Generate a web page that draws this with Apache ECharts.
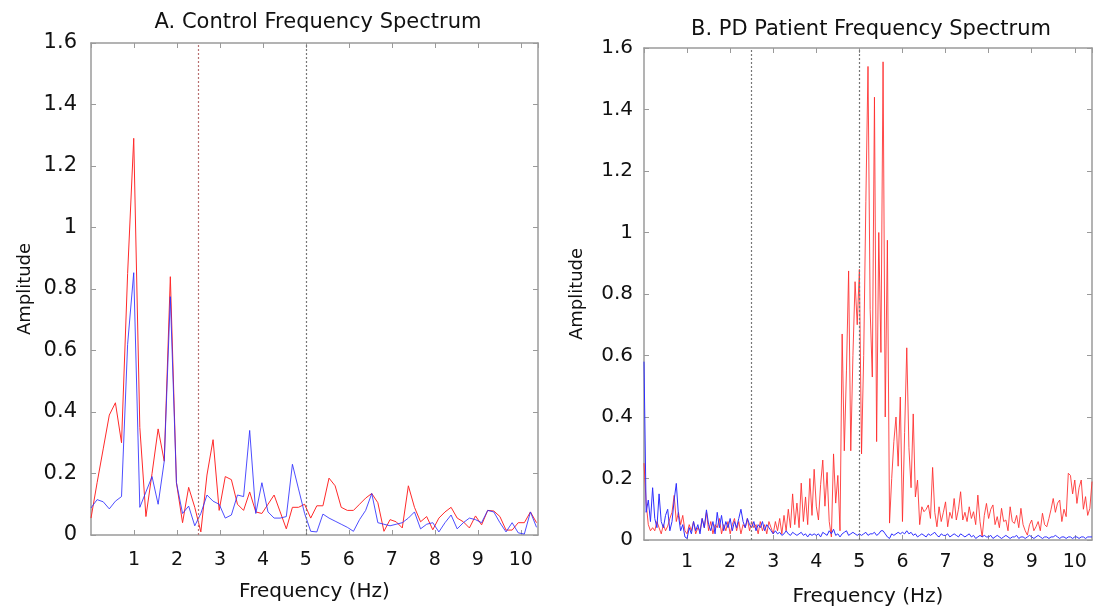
<!DOCTYPE html>
<html>
<head>
<meta charset="utf-8">
<script src="https://cdn.jsdelivr.net/npm/echarts@6/dist/echarts.min.js"></script>
<style>
html,body{margin:0;padding:0;background:#fff;}
#c{width:1093px;height:607px;}
</style>
</head>
<body>
<div id="c"></div>
<script>
// ---- Data ----
const titles = ['A. Control Frequency Spectrum', 'B. PD Patient Frequency Spectrum'];
const xTickLabels = ['1','2','3','4','5','6','7','8','9','10'];
const markFreqs = [2.5, 5];

// Control (panel A): frequency bin step (Hz) and amplitudes
const controlStep = 0.142;
const controlRed = [
  0.055,0.17,0.28,0.39,0.43,0.30,0.85,1.29,0.35,0.06,
  0.20,0.345,0.24,0.84,0.17,0.04,0.155,0.09,0.01,0.195,
  0.31,0.08,0.19,0.18,0.10,0.08,0.14,0.075,0.07,0.10,
  0.13,0.075,0.02,0.09,0.09,0.10,0.055,0.095,0.095,0.185,
  0.16,0.09,0.08,0.08,0.10,0.12,0.135,0.105,0.012,0.05,
  0.043,0.023,0.16,0.09,0.043,0.06,0.017,0.055,0.075,0.09,
  0.055,0.043,0.023,0.062,0.033,0.08,0.078,0.06,0.016,0.016,
  0.04,0.04,0.075,0.04
];
const controlBlue = [
  0.088,0.115,0.108,0.085,0.11,0.125,0.62,0.853,0.09,0.14,
  0.19,0.10,0.24,0.775,0.17,0.07,0.094,0.03,0.07,0.13,
  0.11,0.10,0.055,0.065,0.13,0.125,0.34,0.07,0.17,0.075,
  0.055,0.055,0.06,0.23,0.15,0.07,0.012,0.01,0.068,0.055,
  0.045,0.035,0.025,0.012,0.05,0.08,0.135,0.04,0.035,0.03,
  0.035,0.04,0.055,0.075,0.02,0.035,0.04,0.01,0.04,0.065,
  0.02,0.04,0.055,0.05,0.04,0.08,0.075,0.04,0.01,0.04,
  0.007,0.003,0.075,0.025
];

// PD patient (panel B)
const pdStep = 0.05;
const pdRed = [
  // 0-1 Hz
  0.25,0.12,0.05,0.03,0.04,0.03,0.06,0.04,0.02,0.05,0.03,0.045,0.07,0.09,0.145,0.06,0.09,0.05,0.08,0.03,
  // 1-2 Hz
  0.02,0.05,0.03,0.06,0.02,0.04,0.03,0.07,0.04,0.09,0.03,0.06,0.02,0.05,0.04,0.07,0.02,0.05,0.03,0.06,
  // 2-3 Hz
  0.02,0.05,0.07,0.03,0.06,0.02,0.05,0.04,0.07,0.03,0.06,0.04,0.05,0.02,0.06,0.03,0.05,0.02,0.06,0.04,
  // 3-4 Hz
  0.02,0.06,0.03,0.07,0.02,0.08,0.03,0.10,0.04,0.15,0.05,0.12,0.04,0.185,0.06,0.14,0.05,0.20,0.08,0.23,
  // 4-5 Hz
  0.11,0.065,0.18,0.26,0.11,0.22,0.06,0.01,0.28,0.12,0.21,0.03,0.67,0.29,0.55,0.875,0.29,0.60,0.84,0.70,
  // 5-6 Hz
  0.88,0.28,0.60,1.10,1.54,0.75,0.53,1.44,0.32,1.00,0.61,1.555,0.40,0.975,0.055,0.20,0.32,0.40,0.24,0.465,
  // 6-7 Hz
  0.06,0.35,0.625,0.30,0.17,0.41,0.14,0.195,0.05,0.108,0.092,0.10,0.114,0.07,0.236,0.09,0.043,0.108,0.06,0.09,
  // 7-8 Hz
  0.124,0.043,0.09,0.07,0.135,0.065,0.10,0.157,0.065,0.09,0.06,0.108,0.07,0.092,0.05,0.146,0.06,0.01,0.08,0.119,
  // 8-9 Hz
  0.07,0.10,0.114,0.05,0.076,0.04,0.103,0.06,0.065,0.03,0.108,0.06,0.054,0.08,0.04,0.103,0.05,0.03,0.016,0.05,
  // 9-10 Hz
  0.065,0.03,0.043,0.06,0.03,0.087,0.05,0.043,0.07,0.10,0.135,0.09,0.12,0.13,0.06,0.10,0.076,0.217,0.21,0.15,
  // 10-10.4 Hz
  0.195,0.119,0.17,0.195,0.10,0.141,0.08,0.103,0.19
];
const pdBlue = [
  0.58,0.09,0.13,0.06,0.17,0.07,0.04,0.15,0.06,0.04,0.08,0.10,0.03,0.06,0.13,0.184,0.08,0.03,0.05,0.01,
  0.005,0.04,0.02,0.06,0.03,0.05,0.02,0.07,0.04,0.098,0.05,0.03,0.06,0.02,0.09,0.04,0.08,0.03,0.06,0.04,
  0.07,0.03,0.06,0.04,0.07,0.10,0.06,0.04,0.07,0.05,0.04,0.06,0.03,0.05,0.04,0.06,0.03,0.05,0.04,0.03,
  0.02,0.03,0.02,0.025,0.015,0.02,0.03,0.02,0.015,0.025,0.02,0.015,0.02,0.025,0.015,0.02,0.01,0.02,0.015,0.02,
  0.015,0.02,0.01,0.025,0.02,0.015,0.03,0.02,0.035,0.015,0.02,0.01,0.02,0.025,0.03,0.015,0.02,0.025,0.02,0.015,
  0.02,0.015,0.02,0.025,0.015,0.02,0.02,0.025,0.015,0.02,0.03,0.03,0.02,0.01,0.005,0.02,0.015,0.02,0.025,0.02,
  0.025,0.02,0.03,0.02,0.025,0.015,0.02,0.01,0.015,0.02,0.015,0.01,0.02,0.015,0.02,0.025,0.015,0.01,0.02,0.015,
  0.015,0.02,0.01,0.015,0.02,0.015,0.01,0.02,0.015,0.01,0.015,0.02,0.01,0.015,0.005,0.01,0.015,0.01,0.015,0.01,
  0.01,0.015,0.005,0.01,0.015,0.01,0.005,0.01,0.015,0.01,0.005,0.01,0.01,0.015,0.005,0.01,0.01,0.005,0.01,0.015,
  0.01,0.005,0.01,0.015,0.01,0.005,0.01,0.01,0.005,0.01,0.01,0.015,0.01,0.005,0.01,0.01,0.005,0.01,0.01,0.005,
  0.01,0.01,0.005,0.01,0.01,0.005,0.01,0.01,0.01
];

// ---- Build ----
function pairs(step, vals){ return vals.map((v,i)=>[+(i*step).toFixed(4), v]); }

const FONT = 'DejaVu Sans';
const RED = '#ff2a2a', BLUE = '#2f2fff', FRAME = '#9a9a9a';

function xAxes(gi){
  return [
    { type:'value', gridIndex:gi, min:0, max:10.4, interval:1, position:'bottom',
      axisLine:{onZero:false, lineStyle:{color:FRAME, width:1.5}},
      axisTick:{inside:true, length:5, lineStyle:{color:FRAME}},
      splitLine:{show:false},
      axisLabel:{color:'#111', fontFamily:FONT, fontSize:19, margin:gi===0?16:13, showMinLabel:false, showMaxLabel:false,
        formatter:(v)=>{ const k=Math.round(v); return (k>=1 && k<=10)? xTickLabels[k-1] : ''; }},
      name:'Frequency (Hz)', nameLocation:'middle', nameGap:47,
      nameTextStyle:{color:'#111', fontFamily:FONT, fontSize:20}
    },
    { type:'value', gridIndex:gi, min:0, max:10.4, interval:1, position:'top',
      axisLine:{onZero:false, lineStyle:{color:FRAME, width:1.5}},
      axisTick:{inside:true, length:5, lineStyle:{color:FRAME}},
      axisLabel:{show:false}, splitLine:{show:false} }
  ];
}
function yAxes(gi){
  return [
    { type:'value', gridIndex:gi, min:0, max:1.6, interval:0.2, position:'left',
      axisLine:{show:true, onZero:false, lineStyle:{color:FRAME, width:1.5}},
      axisTick:{show:true, inside:true, length:5, lineStyle:{color:FRAME}},
      splitLine:{show:false},
      axisLabel:{color:'#111', fontFamily:FONT, fontSize:gi===0?21:20, margin:gi===0?14:11},
      name:'Amplitude', nameLocation:'middle', nameGap:gi===0?57:58,
      nameTextStyle:{color:'#111', fontFamily:FONT, fontSize:18}
    },
    { type:'value', gridIndex:gi, min:0, max:1.6, interval:0.2, position:'right',
      axisLine:{show:true, onZero:false, lineStyle:{color:FRAME, width:1.5}},
      axisTick:{show:true, inside:true, length:5, lineStyle:{color:FRAME}},
      axisLabel:{show:false}, splitLine:{show:false} }
  ];
}

function markLines(colors){
  return {
    silent:true, symbol:['none','none'], label:{show:false},
    data: markFreqs.map((f,i)=>({ xAxis:f, lineStyle:{color:colors[i], type:[2,2], width:1.2} }))
  };
}

const option = {
  animation:false,
  backgroundColor:'#fff',
  title:[
    { text:titles[0], left:313, top:7, textAlign:'center',
      textStyle:{fontFamily:FONT, fontSize:21, fontWeight:'normal', color:'#111'} },
    { text:titles[1], left:866, top:14, textAlign:'center',
      textStyle:{fontFamily:FONT, fontSize:21, fontWeight:'normal', color:'#111'} }
  ],
  grid:[
    { left:91, top:43, width:447, height:492, containLabel:false, outerBoundsMode:'none' },
    { left:644, top:48, width:448, height:492, containLabel:false, outerBoundsMode:'none' }
  ],
  xAxis:[...xAxes(0), ...xAxes(1)],
  yAxis:[...yAxes(0), ...yAxes(1)],
  series:[
    { type:'line', xAxisIndex:0, yAxisIndex:0, data:pairs(controlStep, controlRed),
      showSymbol:false, lineStyle:{color:RED, width:1}, z:3,
      markLine: markLines(['#b87070', '#777777']) },
    { type:'line', xAxisIndex:0, yAxisIndex:0, data:pairs(controlStep, controlBlue),
      showSymbol:false, lineStyle:{color:BLUE, width:1, opacity:0.85}, z:4 },
    { type:'line', xAxisIndex:2, yAxisIndex:2, data:pairs(pdStep, pdRed),
      showSymbol:false, lineStyle:{color:RED, width:1, opacity:0.85}, z:3,
      markLine: markLines(['#777777', '#777777']) },
    { type:'line', xAxisIndex:2, yAxisIndex:2, data:pairs(pdStep, pdBlue),
      showSymbol:false, lineStyle:{color:BLUE, width:1}, z:4 }
  ]
};

const chart = echarts.init(document.getElementById('c'), null, {renderer:'canvas'});
chart.setOption(option);
</script>
</body>
</html>
